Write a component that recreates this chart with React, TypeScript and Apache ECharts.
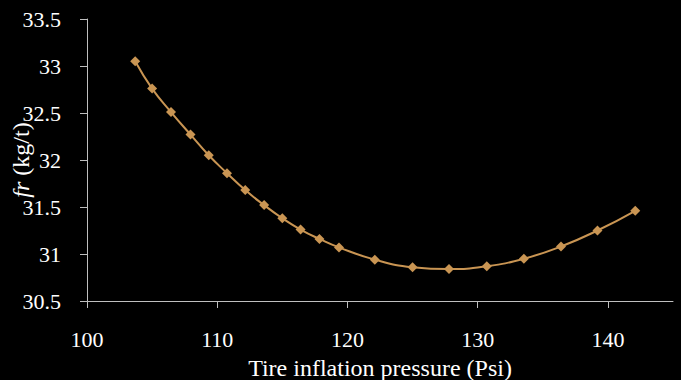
import React, { useEffect, useRef } from "react";
import * as echarts from "echarts";

const pressure = [103.7, 105.0, 106.45, 107.95, 109.35, 110.75, 112.15, 113.6, 115.0, 116.4, 117.85, 119.35, 122.1, 125.0, 127.8, 130.7, 133.55, 136.4, 139.2, 142.1];
const fr = [33.05, 32.76, 32.51, 32.27, 32.05, 31.86, 31.68, 31.52, 31.38, 31.26, 31.16, 31.07, 30.94, 30.86, 30.84, 30.87, 30.95, 31.08, 31.25, 31.46];
const xTicks = [100, 110, 120, 130, 140];

const FONT = "Liberation Serif";

export default function App() {
  const ref = useRef<HTMLDivElement>(null);
  useEffect(() => {
    if (!ref.current) return;
    const chart = echarts.init(ref.current, null, { renderer: "svg" });
    chart.setOption({
      animation: false,
      backgroundColor: "#000000",
      textStyle: { fontFamily: FONT, color: "#ffffff" },
      grid: { left: 87, top: 19, right: 8, bottom: 79, containLabel: false, outerBoundsMode: "none" },
      xAxis: {
        type: "value",
        min: 100,
        max: 145,
        interval: 10,
        name: "Tire inflation pressure (Psi)",
        nameLocation: "middle",
        nameGap: 55,
        nameMoveOverlap: false,
        nameTextStyle: { color: "#ffffff", fontFamily: FONT, fontSize: 24 },
        axisLine: { show: true, lineStyle: { color: "#bfbfbf", width: 1 } },
        axisTick: { show: true, length: 7, lineStyle: { color: "#bfbfbf" }, customValues: xTicks },
        axisLabel: { color: "#ffffff", fontFamily: FONT, fontSize: 22, margin: 27, customValues: xTicks },
        splitLine: { show: false },
      },
      yAxis: {
        type: "value",
        min: 30.5,
        max: 33.5,
        interval: 0.5,
        name: "{i|fr} {n|(kg/t)}",
        nameLocation: "middle",
        nameGap: 54,
        nameRotate: 90,
        nameMoveOverlap: false,
        nameTextStyle: {
          color: "#ffffff",
          fontFamily: FONT,
          fontSize: 24,
          rich: {
            i: { fontStyle: "italic", fontFamily: FONT, fontSize: 24, color: "#ffffff" },
            n: { fontFamily: FONT, fontSize: 24, color: "#ffffff" },
          },
        },
        axisLine: { show: true, lineStyle: { color: "#bfbfbf", width: 1 } },
        axisTick: { show: true, length: 7, lineStyle: { color: "#bfbfbf" } },
        axisLabel: { color: "#ffffff", fontFamily: FONT, fontSize: 22, margin: 26 },
        splitLine: { show: false },
      },
      series: [
        {
          type: "line",
          data: pressure.map((p, i) => [p, fr[i]]),
          smooth: true,
          symbol: "diamond",
          symbolSize: 10,
          lineStyle: { color: "#c99553", width: 2 },
          itemStyle: { color: "#c99553" },
        },
      ],
    });
    return () => chart.dispose();
  }, []);
  return <div ref={ref} style={{ position: "absolute", left: 0, top: 0, width: 681, height: 380 }} />;
}
